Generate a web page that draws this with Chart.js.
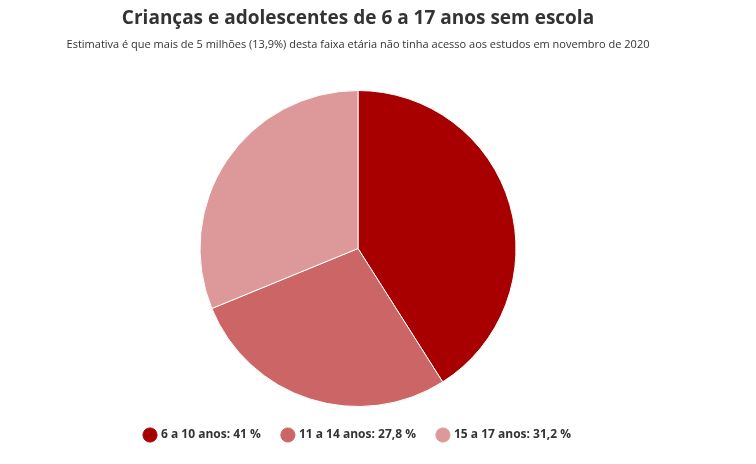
<!DOCTYPE html>
<html>
<head>
<meta charset="utf-8">
<script src="https://cdn.jsdelivr.net/npm/chart.js@4"></script>
<style>
  body { margin: 0; background: #fff; }
  #wrap { position: relative; width: 756px; height: 464px; }
</style>
</head>
<body>
<div id="wrap"><canvas id="c" width="756" height="464"></canvas></div>
<script>
const categories = ["6 a 10 anos", "11 a 14 anos", "15 a 17 anos"];
const shares = [41, 27.8, 31.2];
const shareLabels = ["41", "27,8", "31,2"];
const colors = ["#a80000", "#cc6666", "#dd9999"];

new Chart(document.getElementById("c"), {
  type: "pie",
  data: {
    labels: categories,
    datasets: [{ data: shares, backgroundColor: colors, borderColor: "#fff", borderWidth: 1 }],
  },
  options: {
    responsive: false,
    animation: false,
    layout: { padding: { top: 0, bottom: 13, left: 0, right: 40 } },
    plugins: {
      title: {
        display: true,
        text: "Crianças e adolescentes de 6 a 17 anos sem escola",
        color: "#333",
        font: { family: "Open Sans", size: 19, weight: "bold" },
        padding: { top: 7, bottom: 8 },
      },
      subtitle: {
        display: true,
        text: "Estimativa é que mais de 5 milhões (13,9%) desta faixa etária não tinha acesso aos estudos em novembro de 2020",
        color: "#333",
        font: { family: "Open Sans", size: 11 },
        padding: { bottom: 39 },
      },
      legend: {
        position: "bottom",
        labels: {
          usePointStyle: true,
          pointStyle: "circle",
          boxWidth: 10,
          boxHeight: 10,
          padding: 22,
          color: "#333",
          font: { family: "Open Sans", size: 12, weight: "bold" },
          generateLabels: (chart) =>
            categories.map((c, i) => ({
              text: c + ": " + shareLabels[i] + " %",
              fillStyle: colors[i],
              strokeStyle: colors[i],
              fontColor: "#333",
              pointStyle: "circle",
              index: i,
            })),
        },
      },
      tooltip: { enabled: false },
    },
  },
});
</script>
</body>
</html>
